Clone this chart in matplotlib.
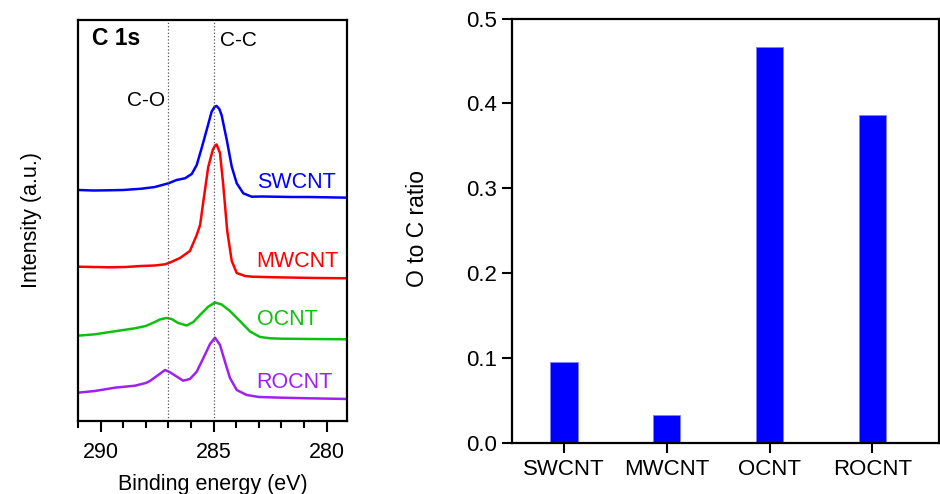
import matplotlib
matplotlib.use("Agg")
import matplotlib.pyplot as plt
from matplotlib.ticker import MultipleLocator, FormatStrFormatter

plt.rcParams['font.family'] = ['Liberation Sans', 'DejaVu Sans']

# C 1s spectra (binding energy in eV, intensity in a.u., offsets included)
sw_e = [291.0, 290.3, 289.66, 289.0, 288.19, 287.6, 287.0, 286.64, 286.27, 285.97, 285.75,
        285.53, 285.31, 285.09, 284.95, 284.87, 284.75, 284.65, 284.42, 284.2, 283.98,
        283.69, 283.32, 282.88, 281.5, 280.81, 279.04]
sw_i = [231, 230.5, 230.7, 231, 232.3, 234, 237.7, 241, 242.7, 247, 256,
        273, 291, 309.3, 314.5, 315, 312, 306, 281, 254.3, 237.7,
        227.7, 224.3, 224.5, 224, 224, 223.3]

mw_e = [291.0, 290.3, 289.66, 288.9, 288.19, 287.6, 287.15, 286.93, 286.49, 286.05, 285.75,
        285.6, 285.46, 285.24, 285.04, 284.94, 284.87, 284.72, 284.58, 284.4, 284.2,
        283.98, 283.61, 283.3, 282.29, 280.5, 279.04]
mw_i = [154.3, 154, 153.7, 154, 155, 155.5, 156.7, 158.5, 163, 170, 186,
        196, 219, 254, 271, 275.5, 276.5, 268, 237, 190, 160,
        148, 145, 144.3, 143.7, 143, 142.7]

oc_e = [291.0, 290.25, 289.37, 288.48, 288.0, 287.6, 287.38, 287.08, 286.86, 286.57, 286.19,
        285.9, 285.53, 285.24, 284.94, 284.65, 284.28, 283.84, 283.39, 282.95, 282.5,
        282.0, 280.81, 279.04]
oc_i = [85.3, 86.7, 89.7, 92.7, 95, 99, 101.5, 103, 102, 98, 95.5,
        99, 107.7, 114.3, 118.5, 116.5, 110, 100, 89.5, 84, 82.7,
        82.3, 82, 81.7]

ro_e = [291.0, 290.25, 289.37, 288.48, 288.0, 287.82, 287.45, 287.15, 286.93, 286.64, 286.35,
        286.05, 285.75, 285.46, 285.16, 284.94, 284.72, 284.5, 284.28, 283.98, 283.54,
        283.0, 282.0, 280.81, 279.04]
ro_i = [28.3, 30, 33.3, 35.3, 38, 40, 46, 51, 48.7, 44.5, 40.3,
        42, 49.3, 62.7, 77, 83.3, 76, 59.3, 43, 31, 26,
        24, 23.3, 22.7, 22]

samples = ["SWCNT", "MWCNT", "OCNT", "ROCNT"]
label_y = [238, 159, 101, 38]
ratio = [0.095, 0.033, 0.467, 0.386]

peak_cc = 285.0
peak_co = 287.0

colors = ["#0000ff", "#ff0000", "#10c010", "#a020f0"]

fig = plt.figure(figsize=(9.4, 4.94), dpi=100)

# left: XPS spectra
ax1 = fig.add_axes([0.083, 0.1478, 0.2862, 0.8117])
for e, i, c in zip([sw_e, mw_e, oc_e, ro_e], [sw_i, mw_i, oc_i, ro_i], colors):
    ax1.plot(e, i, color=c, lw=1.8, solid_joinstyle='round')
for name, y, c in zip(samples, label_y, colors):
    ax1.text(283.1, y, name, color=c, fontsize=15.5, ha='left', va='center')

ax1.axvline(peak_cc, color='#555555', lw=0.9, ls=':')
ax1.axvline(peak_co, color='#555555', lw=0.9, ls=':')
ax1.text(290.4, 394, "C 1s", fontsize=16.5, fontweight='bold', ha='left', va='top')
ax1.text(284.72, 390, "C-C", fontsize=15, ha='left', va='top')
ax1.text(287.15, 321, "C-O", fontsize=15, ha='right', va='center')

ax1.set_xlim(291.0, 279.1)
ax1.set_ylim(0, 401)
ax1.set_yticks([])
ax1.xaxis.set_major_locator(MultipleLocator(5))
ax1.xaxis.set_minor_locator(MultipleLocator(1))
ax1.tick_params(axis='x', which='major', direction='out', length=8, width=1.5, labelsize=15.5, pad=7)
ax1.tick_params(axis='x', which='minor', direction='out', length=5, width=1.5)
ax1.set_xlabel("Binding energy (eV)", fontsize=15.5, labelpad=8)
for s in ax1.spines.values():
    s.set_linewidth(1.6)
fig.text(31 / 940, 1 - 220 / 494, "Intensity (a.u.)", fontsize=15.5, rotation=90,
         ha='center', va='center')

# right: O/C ratio bars
ax2 = fig.add_axes([0.5447, 0.1038, 0.4543, 0.8587])
ax2.bar(range(len(samples)), ratio, width=0.266, color="#0000ff", edgecolor="#8080ff", linewidth=0.6)
ax2.set_xlim(-0.506, 3.65)
ax2.set_ylim(0, 0.5)
ax2.set_xticks(range(len(samples)))
ax2.set_xticklabels(samples)
ax2.yaxis.set_major_locator(MultipleLocator(0.1))
ax2.yaxis.set_major_formatter(FormatStrFormatter('%.1f'))
ax2.tick_params(axis='both', direction='out', length=7, width=1.5, labelsize=16)
ax2.tick_params(axis='x', pad=5)
ax2.tick_params(axis='y', pad=4)
for s in ax2.spines.values():
    s.set_linewidth(1.6)
fig.text(418 / 940, 1 - 228 / 494, "O to C ratio", fontsize=16.5, rotation=90,
         ha='center', va='center')

fig.savefig("out.png", dpi=100)
